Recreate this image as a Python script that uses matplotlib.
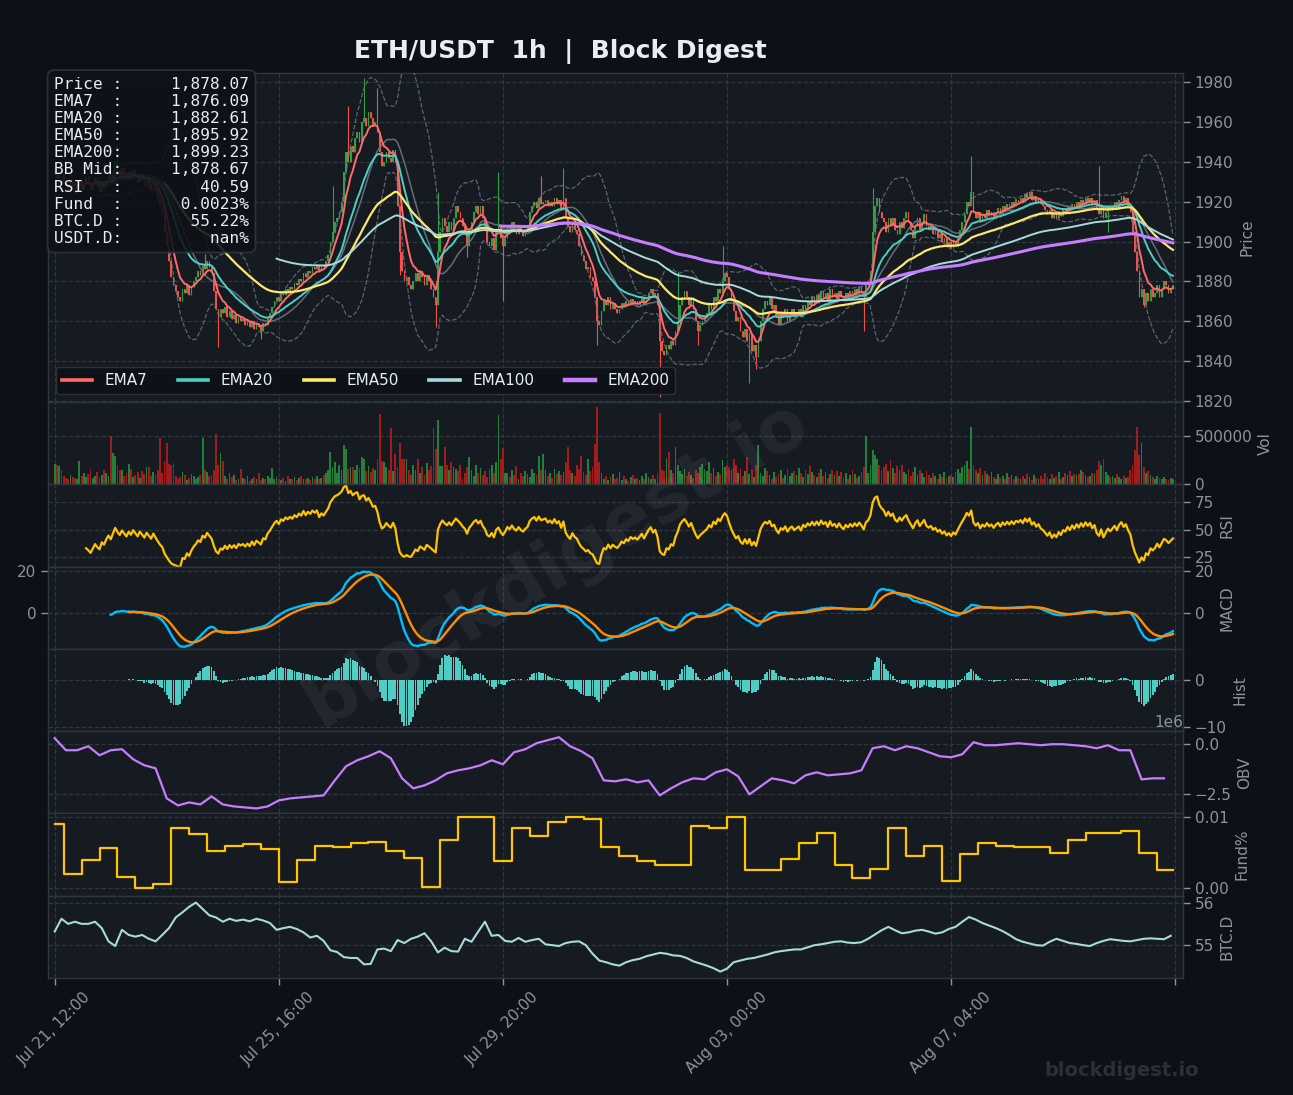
import numpy as np
import pandas as pd
import matplotlib
matplotlib.use("Agg")
import matplotlib.pyplot as plt
from matplotlib.gridspec import GridSpec
from matplotlib.ticker import FormatStrFormatter, FixedLocator

# ---------------- data ----------------
start_time = "2023-07-21 12:00"
first_open = 1934.0
close = [
    1936,1932,1938,1934,1930,1928,1925,1930,1927,1924,
    1928,1931,1926,1929,1933,1930,1926,1929,1932,1928,
    1925,1930,1927,1931,1934,1930,1935,1940,1936,1933,
    1937,1934,1931,1935,1932,1936,1933,1930,1934,1931,
    1928,1932,1929,1926,1930,1926,1922,1918,1915,1905,
    1898,1890,1882,1878,1875,1872,1870,1876,1874,1878,
    1873,1877,1880,1882,1885,1883,1888,1886,1890,1887,
    1884,1875,1866,1862,1866,1864,1867,1862,1865,1861,
    1863,1859,1862,1860,1861,1858,1860,1857,1860,1856,
    1859,1857,1855,1859,1858,1862,1864,1867,1870,1872,
    1870,1874,1873,1876,1875,1877,1876,1879,1878,1881,
    1880,1884,1882,1885,1884,1887,1886,1888,1885,1888,
    1887,1890,1893,1900,1905,1910,1912,1915,1920,1935,
    1945,1940,1948,1945,1952,1955,1950,1960,1962,1958,
    1965,1962,1958,1960,1955,1945,1938,1940,1945,1942,
    1940,1946,1940,1918,1895,1885,1880,1882,1878,1876,
    1880,1884,1880,1885,1882,1878,1883,1880,1876,1872,
    1868,1895,1905,1912,1908,1905,1910,1906,1912,1918,
    1915,1912,1908,1905,1898,1906,1910,1915,1918,1914,
    1918,1912,1908,1900,1898,1902,1896,1905,1908,1902,
    1898,1902,1908,1905,1910,1906,1904,1908,1905,1903,
    1906,1908,1915,1918,1920,1917,1922,1919,1920,1921,
    1918,1920,1918,1922,1919,1921,1916,1922,1912,1908,
    1905,1910,1906,1904,1898,1893,1890,1886,1887,1882,
    1880,1872,1860,1858,1865,1870,1868,1872,1866,1869,
    1866,1864,1866,1869,1867,1870,1868,1871,1869,1870,
    1868,1870,1872,1868,1871,1874,1876,1872,1874,1868,
    1850,1845,1843,1848,1846,1850,1848,1855,1860,1868,
    1872,1875,1872,1868,1872,1866,1860,1855,1858,1860,
    1862,1864,1868,1866,1872,1870,1876,1874,1880,1884,
    1882,1876,1870,1865,1860,1862,1855,1852,1856,1850,
    1854,1845,1848,1842,1850,1860,1866,1870,1868,1872,
    1866,1868,1862,1858,1864,1862,1866,1860,1864,1866,
    1862,1864,1866,1862,1868,1866,1870,1868,1872,1869,
    1873,1870,1875,1872,1874,1870,1876,1872,1874,1871,
    1875,1872,1870,1874,1872,1875,1873,1876,1874,1877,
    1875,1872,1878,1880,1885,1905,1918,1922,1915,1912,
    1910,1905,1912,1908,1912,1906,1904,1910,1907,1912,
    1915,1910,1906,1902,1908,1912,1906,1910,1914,1908,
    1906,1908,1904,1906,1902,1904,1900,1902,1898,1900,
    1897,1900,1898,1902,1906,1910,1914,1920,1918,1925,
    1915,1912,1915,1910,1914,1912,1916,1913,1915,1912,
    1915,1917,1914,1918,1916,1919,1917,1920,1918,1921,
    1920,1922,1920,1924,1922,1925,1921,1923,1920,1922,
    1919,1918,1916,1914,1916,1912,1914,1912,1915,1913,
    1916,1915,1918,1916,1919,1917,1920,1918,1921,1919,
    1922,1920,1922,1919,1921,1916,1914,1918,1912,1915,
    1918,1916,1918,1920,1917,1921,1923,1920,1922,1918,
    1915,1905,1895,1885,1872,1876,1868,1874,1870,1876,
    1872,1874,1878,1872,1876,1880,1878,1874,1876,1878.07,
]
wick_high = {28: 1949, 67: 1894, 124: 1928, 131: 1968, 138: 1982, 144: 1977,
             171: 1925, 198: 1935, 217: 1933, 227: 1937, 278: 1885, 298: 1898,
             365: 1927, 409: 1943, 466: 1938}
wick_low = {73: 1847, 92: 1851, 154: 1883, 170: 1857, 184: 1892, 200: 1870,
            242: 1848, 270: 1822, 287: 1848, 310: 1829, 313: 1836, 361: 1855,
            470: 1905, 486: 1867}
volume_k = [
    210,200,190,150,90,70,60,100,80,70,
    60,240,90,120,80,110,160,70,90,130,
    80,100,150,120,90,490,320,293,200,150,
    150,90,120,210,160,80,100,130,70,140,
    110,180,177,90,130,100,150,470,120,243,
    427,210,200,220,90,60,80,127,100,43,
    70,110,90,60,80,100,470,150,130,90,
    100,150,520,200,320,243,90,60,120,80,
    100,40,60,160,70,50,90,30,60,80,
    50,120,40,70,60,90,70,170,50,80,
    60,40,70,30,90,50,60,80,40,70,
    90,50,60,70,40,80,60,90,50,70,
    100,120,150,330,180,227,120,200,150,400,
    360,160,180,180,150,200,170,277,260,140,
    193,127,170,150,260,720,243,227,180,150,
    577,140,310,180,427,260,260,260,150,93,
    200,150,260,120,180,100,220,150,190,577,
    360,660,190,190,387,200,150,227,180,160,
    140,200,60,120,180,277,150,90,200,120,
    170,100,140,80,160,200,120,227,710,260,
    377,120,120,80,150,100,193,60,120,90,
    140,110,80,160,120,100,293,150,310,150,
    90,120,70,160,110,140,100,130,227,387,
    150,120,90,200,160,287,130,100,260,140,
    180,410,787,227,120,60,90,40,80,110,
    50,70,127,40,90,60,30,80,100,50,
    70,40,90,60,120,80,50,100,60,120,
    727,150,140,270,330,150,120,387,200,140,
    110,160,90,130,100,70,150,120,180,210,
    160,140,230,120,170,90,130,110,250,180,
    200,180,150,260,200,120,170,90,140,280,
    110,160,80,200,400,120,90,170,140,100,
    60,130,80,110,150,70,100,160,90,120,
    140,100,170,120,80,150,110,190,130,100,
    80,120,160,90,130,70,110,150,100,140,
    90,130,80,120,60,100,150,110,70,90,
    130,180,490,120,200,350,300,260,200,150,
    180,210,140,250,170,120,190,150,200,130,
    110,160,90,130,180,100,150,120,80,140,
    100,70,120,90,60,110,80,130,70,90,
    100,80,130,160,120,180,200,240,160,590,
    200,150,120,170,100,140,110,90,130,80,
    60,110,70,90,50,120,80,100,60,90,
    70,50,90,60,110,80,40,100,70,60,
    90,60,120,80,50,110,70,90,130,60,
    80,120,100,140,90,110,100,110,150,130,
    100,80,90,120,110,150,240,200,260,130,
    100,80,90,70,110,80,60,90,70,80,
    150,200,350,590,300,420,180,120,140,100,
    80,60,90,70,50,80,60,40,70,60,
]
obv_step = 5
obv_m = [
    0.30,-0.30,-0.30,-0.10,-0.55,-0.30,-0.25,-0.75,-1.05,-1.20,
    -2.70,-3.05,-2.90,-3.00,-2.60,-3.00,-3.10,-3.15,-3.20,-3.10,
    -2.80,-2.70,-2.65,-2.60,-2.55,-1.80,-1.10,-0.80,-0.60,-0.35,
    -0.70,-1.70,-2.20,-2.05,-1.80,-1.45,-1.30,-1.20,-1.05,-0.80,
    -1.00,-0.40,-0.25,0.05,0.20,0.35,-0.10,-0.35,-0.70,-1.80,
    -1.85,-1.75,-1.90,-1.80,-2.55,-2.20,-1.90,-1.70,-1.75,-1.40,
    -1.25,-1.60,-2.50,-2.10,-1.70,-1.80,-1.95,-1.55,-1.40,-1.55,
    -1.50,-1.45,-1.30,-0.20,-0.10,-0.30,-0.10,-0.20,-0.40,-0.60,
    -0.65,-0.50,0.10,-0.05,-0.05,0.00,0.05,0.00,-0.05,0.00,
    0.00,-0.05,-0.10,-0.20,-0.05,-0.30,-0.30,-1.75,-1.70,-1.70,
]
fund_period = 8
fund_first_len = 4
funding = [
    0.0090,0.0020,0.0040,0.0056,0.0016,0.0000,0.0005,0.0085,0.0077,0.0052,
    0.0059,0.0062,0.0055,0.0008,0.0040,0.0059,0.0058,0.0063,0.0065,0.0052,
    0.0043,0.0002,0.0068,0.0100,0.0100,0.0038,0.0085,0.0073,0.0093,0.0100,
    0.0098,0.0058,0.0045,0.0038,0.0033,0.0033,0.0088,0.0085,0.0100,0.0025,
    0.0025,0.0041,0.0064,0.0078,0.0033,0.0014,0.0027,0.0085,0.0045,0.0060,
    0.0010,0.0048,0.0064,0.0060,0.0058,0.0058,0.0050,0.0068,0.0078,0.0078,
    0.0080,0.0050,0.0025,
]
btcd_step = 3
btc_d = [
    55.32,55.62,55.50,55.55,55.50,55.50,55.55,55.40,55.09,54.98,
    55.36,55.24,55.20,55.24,55.15,55.09,55.24,55.40,55.65,55.77,
    55.90,56.00,55.85,55.70,55.65,55.55,55.62,55.57,55.60,55.56,
    55.62,55.58,55.52,55.36,55.40,55.43,55.38,55.30,55.18,55.22,
    55.10,54.88,54.84,54.72,54.70,54.70,54.55,54.56,54.90,54.92,
    54.86,55.12,55.05,55.15,55.20,55.28,55.09,54.83,54.94,54.86,
    54.85,55.15,55.08,55.32,55.55,55.22,55.24,55.10,55.08,55.17,
    55.08,55.12,55.15,55.02,55.00,54.98,55.05,55.08,55.09,55.00,
    54.80,54.64,54.60,54.55,54.52,54.60,54.65,54.68,54.74,54.78,
    54.82,54.80,54.76,54.75,54.70,54.62,54.57,54.52,54.46,54.38,
    54.45,54.60,54.64,54.68,54.70,54.74,54.78,54.83,54.86,54.88,
    54.90,54.90,54.95,55.00,55.02,55.05,55.08,55.09,55.06,55.05,
    55.07,55.15,55.25,55.35,55.43,55.35,55.28,55.30,55.34,55.36,
    55.32,55.27,55.30,55.38,55.43,55.55,55.66,55.60,55.52,55.46,
    55.40,55.33,55.24,55.14,55.08,55.04,55.00,54.99,55.08,55.15,
    55.10,55.05,55.03,55.00,54.98,55.05,55.10,55.14,55.12,55.10,
    55.09,55.12,55.15,55.16,55.15,55.14,55.22,
]
info_labels = ["Price", "EMA7", "EMA20", "EMA50", "EMA200", "BB Mid", "RSI", "Fund", "BTC.D", "USDT.D"]
info_values = ["1,878.07", "1,876.09", "1,882.61", "1,895.92", "1,899.23", "1,878.67",
               "40.59", "0.0023%", "55.22%", "nan%"]
tick_every = 100

# ---------------- colours ----------------
FIG_BG = "#0d1117"
AX_BG = "#161b22"
GRID = "#30363d"
TXT = "#8b949e"
WHITE = "#e6edf3"
UP = "#2ea043"
DN = "#f0524a"
VUP = "#23803a"
VDN = "#a31c1c"

# ---------------- derived series ----------------
c = pd.Series(close, dtype=float)
n = len(c)
o = c.shift(1)
o.iloc[0] = first_open
hi = np.maximum(o, c).values.copy()
lo = np.minimum(o, c).values.copy()
for k, v in wick_high.items():
    hi[k] = max(hi[k], v)
for k, v in wick_low.items():
    lo[k] = min(lo[k], v)
x = np.arange(n)
up = (c >= o).values

def ema(s, span):
    return s.ewm(span=span, adjust=False, min_periods=span).mean()

emas = {p: ema(c, p) for p in (7, 20, 50, 100, 200)}
bb_mid = c.rolling(20).mean()
bb_std = c.rolling(20).std(ddof=0)
bb_up = bb_mid + 2 * bb_std
bb_lo = bb_mid - 2 * bb_std

delta = c.diff()
gain = delta.clip(lower=0).ewm(alpha=1/14, adjust=False, min_periods=14).mean()
loss = (-delta.clip(upper=0)).ewm(alpha=1/14, adjust=False, min_periods=14).mean()
rsi = 100 - 100 / (1 + gain / loss)

macd = ema(c, 12) - ema(c, 26)
signal = macd.ewm(span=9, adjust=False, min_periods=9).mean()
hist = macd - signal

vol = np.array(volume_k, dtype=float) * 1000
obv = np.array(obv_m) * 1e6
obv_x = np.arange(len(obv)) * obv_step
btc_x = np.arange(len(btc_d)) * btcd_step
fund_x = np.r_[0, fund_first_len + fund_period * np.arange(len(funding) - 1), n - 1]
fund_y = np.r_[funding, funding[-1]]

dates = pd.date_range(start_time, periods=n, freq="h")

# ---------------- figure ----------------
fig = plt.figure(figsize=(12.93, 10.95), dpi=100, facecolor=FIG_BG)
gs = GridSpec(8, 1, height_ratios=[4, 1, 1, 1, 1, 1, 1, 1], hspace=0,
              left=48/1293, right=1183/1293, top=1-73/1095, bottom=1-978/1095)
axes = []
for i in range(8):
    ax = fig.add_subplot(gs[i], sharex=axes[0] if axes else None)
    axes.append(ax)
ax_p, ax_v, ax_r, ax_m, ax_h, ax_o, ax_f, ax_b = axes
labels = ["Price", "Vol", "RSI", "MACD", "Hist", "OBV", "Fund%", "BTC.D"]
for ax, lab in zip(axes, labels):
    ax.set_facecolor(AX_BG)
    ax.grid(True, color=GRID, linestyle="--", linewidth=0.9)
    ax.set_axisbelow(True)
    for sp in ax.spines.values():
        sp.set_color(GRID)
        sp.set_linewidth(1.0)
    ax.yaxis.tick_right()
    ax.yaxis.set_label_position("right")
    ax.yaxis.set_offset_position("right")
    ax.tick_params(axis="y", colors=TXT, labelsize=11, labelcolor=TXT, length=5, width=1)
    ax.tick_params(axis="x", colors=TXT, labelsize=11, labelcolor=TXT, length=5, width=1)
    ax.yaxis.get_offset_text().set_color(TXT)
    ax.yaxis.get_offset_text().set_fontsize(11)
    ax.set_ylabel(lab, color=TXT, fontsize=11)
    if ax is not ax_b:
        ax.tick_params(axis="x", bottom=False, labelbottom=False)

# price panel
ax_p.vlines(x, lo, hi, colors=np.where(up, UP, DN), linewidth=0.8, zorder=2)
body_h = np.maximum(np.abs(c.values - o.values), 0.4)
ax_p.bar(x, body_h, bottom=np.minimum(o.values, c.values), width=0.7,
         color=np.where(up, UP, DN), zorder=2)
ax_p.plot(x, bb_up, color="#6e7681", lw=0.9, ls="--", alpha=0.8, zorder=3)
ax_p.plot(x, bb_lo, color="#6e7681", lw=0.9, ls="--", alpha=0.8, zorder=3)
ax_p.plot(x, bb_mid, color="#6e7681", lw=1.1, alpha=0.9, zorder=3)
ema_style = {7: ("#ff6b6b", 1.4), 20: ("#4ecdc4", 1.4), 50: ("#ffe66d", 1.6),
             100: ("#a8dadc", 1.4), 200: ("#c77dff", 2.2)}
handles = []
for p, (col, lw) in ema_style.items():
    h, = ax_p.plot(x, emas[p], color=col, lw=lw, label=f"EMA{p}", zorder=4)
    handles.append(h)
ax_p.set_ylim(1819.5, 1984.5)
ax_p.yaxis.set_major_locator(FixedLocator(np.arange(1820, 1981, 20)))
leg = ax_p.legend(handles=handles, loc="lower left", ncol=5, fontsize=11,
                  facecolor=FIG_BG, edgecolor=GRID, labelcolor=WHITE, framealpha=0.9,
                  borderaxespad=0.5, columnspacing=2.0, handlelength=2.0)
for ln, (col, lw) in zip(leg.get_lines(), ema_style.values()):
    ln.set_linewidth(2.6 if lw < 2 else 3.2)

info = "\n".join(f"{lab:<6}: {val:>12}" for lab, val in zip(info_labels, info_values))
ax_p.text(0.0053, 0.989, info, transform=ax_p.transAxes, va="top", ha="left",
          family="DejaVu Sans Mono", fontsize=11.6, linespacing=1.18, color=WHITE, zorder=10,
          bbox=dict(boxstyle="round,pad=0.4", fc=FIG_BG, ec=GRID, alpha=0.88, lw=1.2))

# volume
ax_v.bar(x, vol, width=0.8, color=np.where(up, VUP, VDN))
ax_v.set_ylim(0, vol.max() * 1.07)
ax_v.yaxis.set_major_locator(FixedLocator([0, 500000]))

# RSI
ax_r.plot(x, rsi, color="#ffc300", lw=1.6)
ax_r.set_ylim(16, 91.4)
ax_r.yaxis.set_major_locator(FixedLocator([25, 50, 75]))

# MACD
ax_m.plot(x, macd, color="#00bfff", lw=1.7)
ax_m.plot(x, signal, color="#ff8c00", lw=1.7)
ax_m.set_ylim(-16.5, 21.8)
ax_m.yaxis.set_major_locator(FixedLocator([-20, 0, 20]))
ax_m.tick_params(axis="y", left=True, labelleft=True)

# Hist
ax_h.bar(x, hist, width=0.8, color="#4ecdc4")
ax_h.set_ylim(-10.85, 6.6)
ax_h.yaxis.set_major_locator(FixedLocator([-10, 0, 10]))

# OBV
ax_o.plot(obv_x, obv, color="#c77dff", lw=1.6)
ax_o.set_ylim(-3.45e6, 0.65e6)
ax_o.yaxis.set_major_locator(FixedLocator([-2.5e6, 0]))

# Funding
ax_f.plot(fund_x, fund_y, color="#ffc300", lw=1.6, drawstyle="steps-post")
ax_f.set_ylim(-0.0011, 0.01055)
ax_f.yaxis.set_major_locator(FixedLocator([0, 0.01]))
ax_f.yaxis.set_major_formatter(FormatStrFormatter("%.2f"))

# BTC dominance
ax_b.plot(btc_x, btc_d, color="#a8dadc", lw=1.5)
ax_b.set_ylim(54.23, 56.16)
ax_b.yaxis.set_major_locator(FixedLocator([55, 56]))

# x axis
ticks = np.arange(0, n + 1, tick_every)
ax_b.set_xticks(ticks)
ax_b.set_xticklabels([dates[t].strftime("%b %d, %H:%M") if t < n else "" for t in ticks],
                     rotation=45, color=TXT, fontsize=11)
ax_b.set_xlim(-3, 503.5)

# texts
fig.text(560/1293, 1-52/1095, "ETH/USDT  1h  |  Block Digest", ha="center", va="center",
         fontsize=18, weight="bold", color=WHITE)
fig.text(557/1293, 1-563/1095, "blockdigest.io", ha="center", va="center", rotation=31,
         fontsize=52, weight="bold", color="white", alpha=0.06, zorder=20)
fig.text(1122/1293, 1-1070/1095, "blockdigest.io", ha="center", va="center",
         fontsize=14, weight="bold", color="#2a2f38")

fig.savefig("out.png", dpi=100, facecolor=FIG_BG)
